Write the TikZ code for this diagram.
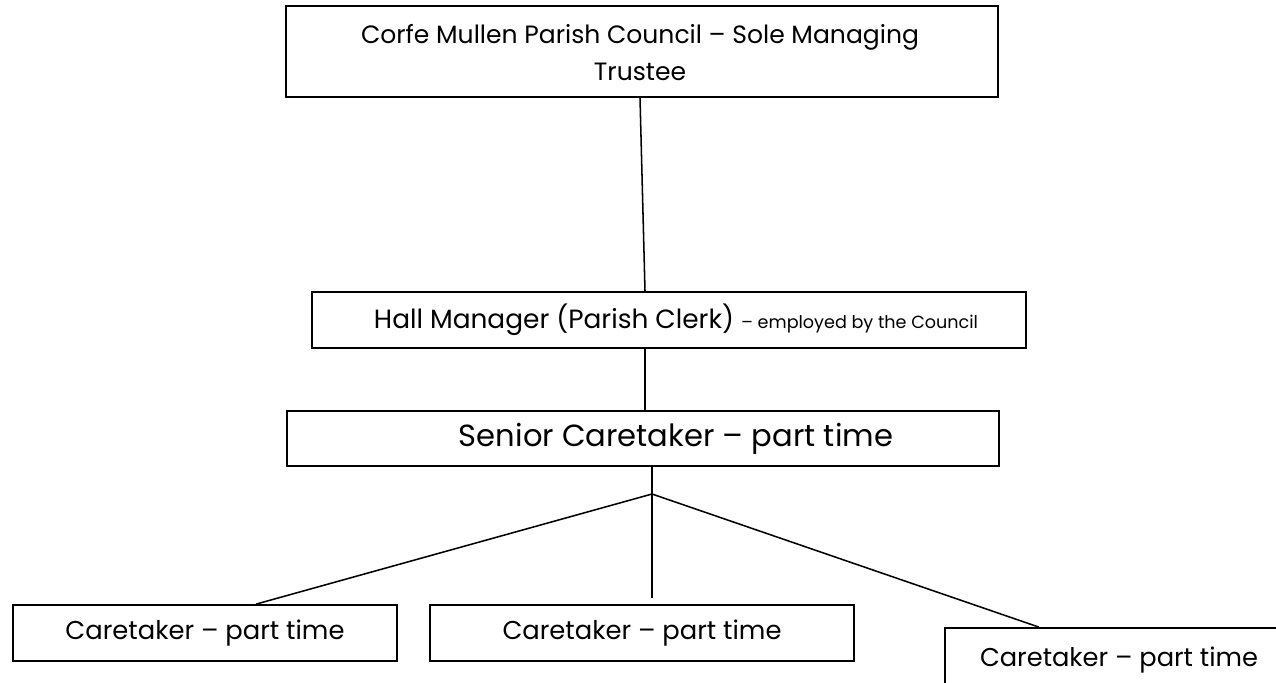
\documentclass[tikz,border=0pt]{standalone}
\usepackage{fontspec}
\setmainfont{Poppins}
\usepackage{graphicx}
\usetikzlibrary{calc}
\tikzset{
  box/.style={draw=black, line width=1.3pt, rectangle, inner sep=0pt, align=center},
  link/.style={draw=black, line width=1.15pt},
}
\begin{document}
\begin{tikzpicture}[x=0.75pt,y=-0.75pt]
\useasboundingbox (0,0) rectangle (1276,682);
\clip (0,0) rectangle (1276,682);
\fill[white] (0,0) rectangle (1276,682);

\node[box, minimum width=534pt, minimum height=68.25pt] (top) at (642,51.5) {};
\node[inner sep=0pt, align=center] (toptext) at (640,54.5)
  {\resizebox{418.5pt}{!}{\fontsize{20}{30}\selectfont\begin{tabular}{@{}c@{}}Corfe Mullen Parish Council – Sole Managing\\Trustee\end{tabular}}};
\node[box, minimum width=535.5pt, minimum height=42pt] (hall) at (669,320)
  {\hspace*{10.5pt}\resizebox{453pt}{!}{\fontsize{18}{22}\selectfont Hall Manager (Parish Clerk) {\fontsize{12}{14}\selectfont – employed by the Council}}};
\node[box, minimum width=534pt, minimum height=41.25pt] (senior) at (643,438.5)
  {\hspace*{49.5pt}\resizebox{325.5pt}{!}{Senior Caretaker – part time}};
\node[box, minimum width=288pt, minimum height=42pt] (left) at (205,633)
  {\resizebox{209.25pt}{!}{Caretaker – part time}};
\node[box, minimum width=318pt, minimum height=42pt] (middle) at (642,633)
  {\resizebox{209.25pt}{!}{Caretaker – part time}};
\node[box, minimum width=261pt, minimum height=48pt] (right) at (1119,660)
  {\resizebox{208.5pt}{!}{Caretaker – part time}};

\coordinate (J) at (652,494);
\coordinate (M) at (652,598);

\draw[link] ($(top.south)+(-2,0)$) -- ($(hall.north)+(-24,0)$);
\draw[link] ($(hall.south)+(-24,0)$) -- ($(senior.north)+(2,0)$);
\draw[link] ($(senior.south)+(9,0)$) -- (J) -- (M);
\draw[link] (J) -- ($(left.north)+(51,0)$);
\draw[link] (J) -- ($(right.north)+(-80,0)$);
\end{tikzpicture}
\end{document}
